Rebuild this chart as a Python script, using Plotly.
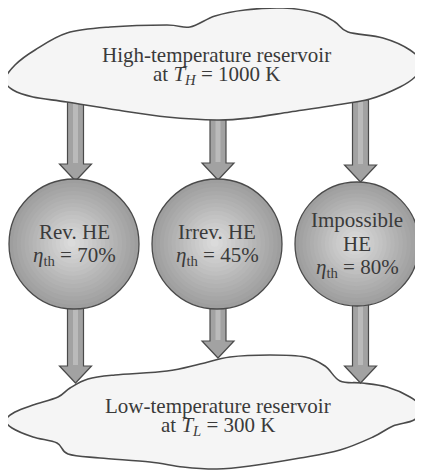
import numpy as np
import plotly.graph_objects as go

# ---- data ----
engines = ["Rev. HE", "Irrev. HE", "Impossible HE"]
engine_lines = [["Rev. HE"], ["Irrev. HE"], ["Impossible", "HE"]]
efficiencies = [70, 45, 80]
T_high = 1000
T_low = 300
source_label = "High-temperature reservoir"
sink_label = "Low-temperature reservoir"

W, H = 423, 471
PAGE_MARGIN = 8  # default body margin of the html page
FONT = "Liberation Serif"
TXT = "#3a3a3a"
EDGE = "#4a4a4a"

fig = go.Figure()
shapes = []
annotations = []


def closed_spline(pts, tension=1.0):
    pts = np.asarray(pts, float)
    n = len(pts)
    d = "M %.2f,%.2f " % tuple(pts[0])
    for i in range(n):
        p0 = pts[(i - 1) % n]
        p1 = pts[i]
        p2 = pts[(i + 1) % n]
        p3 = pts[(i + 2) % n]
        c1 = p1 + (p2 - p0) / 6 * tension
        c2 = p2 - (p3 - p1) / 6 * tension
        d += "C %.2f,%.2f %.2f,%.2f %.2f,%.2f " % (c1[0], c1[1], c2[0], c2[1], p2[0], p2[1])
    return d + "Z"


def arrow(xc, y_top, y_tip, shaft_w=16, head_w=32, head_len=17):
    hs, hh = shaft_w / 2, head_w / 2
    yb = y_tip - head_len
    d = (f"M {xc-hs},{y_top} L {xc+hs},{y_top} L {xc+hs},{yb} L {xc+hh},{yb} "
         f"L {xc},{y_tip} L {xc-hh},{yb} L {xc-hs},{yb} Z")
    shapes.append(dict(type="path", path=d, fillcolor="#a2a2a2",
                       line=dict(color=EDGE, width=1.2), layer="above"))
    d2 = f"M {xc-2.5},{y_top+1} L {xc+2.5},{y_top+1} L {xc+2.5},{yb-1} L {xc-2.5},{yb-1} Z"
    shapes.append(dict(type="path", path=d2, fillcolor="#bababa",
                       line=dict(width=0), layer="above"))


def cloud(pts):
    shapes.append(dict(type="path", path=closed_spline(pts), fillcolor="#f5f5f5",
                       line=dict(color=EDGE, width=1.6), layer="above"))


def sphere(cx, cy, r):
    n = 16
    for k in range(n):
        f = k / n
        rr = r * (1 - f)
        g = int(158 + (224 - 158) * f)
        col = f"rgb({g},{g},{g})"
        ox = -r * 0.04 * f
        oy = -r * 0.02 * f
        shapes.append(dict(type="circle", x0=cx - rr + ox, x1=cx + rr + ox,
                           y0=cy - rr + oy, y1=cy + rr + oy, fillcolor=col,
                           line=dict(width=0), layer="above"))
    shapes.append(dict(type="circle", x0=cx - r, x1=cx + r, y0=cy - r, y1=cy + r,
                       fillcolor="rgba(0,0,0,0)", line=dict(color=EDGE, width=1.3),
                       layer="above"))


def text(x, y, s, size=21):
    annotations.append(dict(x=x, y=y, xref="x", yref="y", text=s, showarrow=False,
                            font=dict(family=FONT, size=size, color=TXT),
                            xanchor="center", yanchor="middle"))


cols = [75.5, 218, 360.5]
spheres = [(74, 244, 65), (217, 244, 65), (357, 244, 62)]

# source -> engines (shafts tucked under the cloud)
arrow(cols[0], 100, 181)
arrow(cols[1], 112, 180)
arrow(cols[2], 100, 182)

top_cloud = [(5, 80), (15, 65), (35, 50), (67, 33), (110, 27), (167, 25), (190, 27),
             (215, 16), (245, 10), (283, 8), (317, 13), (335, 22), (348, 32),
             (383, 38), (410, 50), (422, 64), (416, 76), (400, 87), (370, 99),
             (330, 106), (290, 112), (250, 118), (217, 120), (167, 117),
             (117, 110), (67, 102), (33, 97), (13, 90)]
bottom_cloud = [(6, 420), (15, 412), (33, 405), (58, 397), (70, 388), (88, 379),
                (115, 375), (167, 371), (200, 364), (230, 357), (270, 355),
                (305, 357), (325, 366), (340, 381), (362, 383), (387, 387),
                (410, 397), (422, 408), (414, 420), (393, 426), (373, 437),
                (340, 450), (300, 458), (250, 466), (217, 469), (183, 467),
                (150, 462), (100, 458), (68, 454), (57, 443), (33, 437), (12, 428)]
cloud(top_cloud)
cloud(bottom_cloud)

# engines -> sink
arrow(cols[0], 300, 383)
arrow(cols[1], 300, 358)
arrow(cols[2], 300, 383)

for (cx, cy, r) in spheres:
    sphere(cx, cy, r)

text(216, 55, source_label)
text(216, 75, f"at <i>T</i><sub><i>H</i></sub> = {T_high} K")
text(218, 406, sink_label)
text(218, 426, f"at <i>T</i><sub><i>L</i></sub> = {T_low} K")

for (cx, cy, r), lines, eff in zip(spheres, engine_lines, efficiencies):
    all_lines = lines + [f"<i>η</i><sub>th</sub> = {eff}%"]
    n = len(all_lines)
    step = 24
    y0 = cy - step * (n - 1) / 2
    for i, s in enumerate(all_lines):
        text(cx, y0 + i * step, s)

# the page body has an 8px margin: shrink the figure and offset the axis ranges
# so that diagram coordinates equal window pixels
fig.update_layout(
    width=W - PAGE_MARGIN, height=H - PAGE_MARGIN,
    margin=dict(l=0, r=0, t=0, b=0),
    paper_bgcolor="white", plot_bgcolor="white",
    xaxis=dict(range=[PAGE_MARGIN, W], visible=False, fixedrange=True),
    yaxis=dict(range=[H, PAGE_MARGIN], visible=False, fixedrange=True),
    shapes=shapes, annotations=annotations, showlegend=False,
)
fig.write_html("out.html")
